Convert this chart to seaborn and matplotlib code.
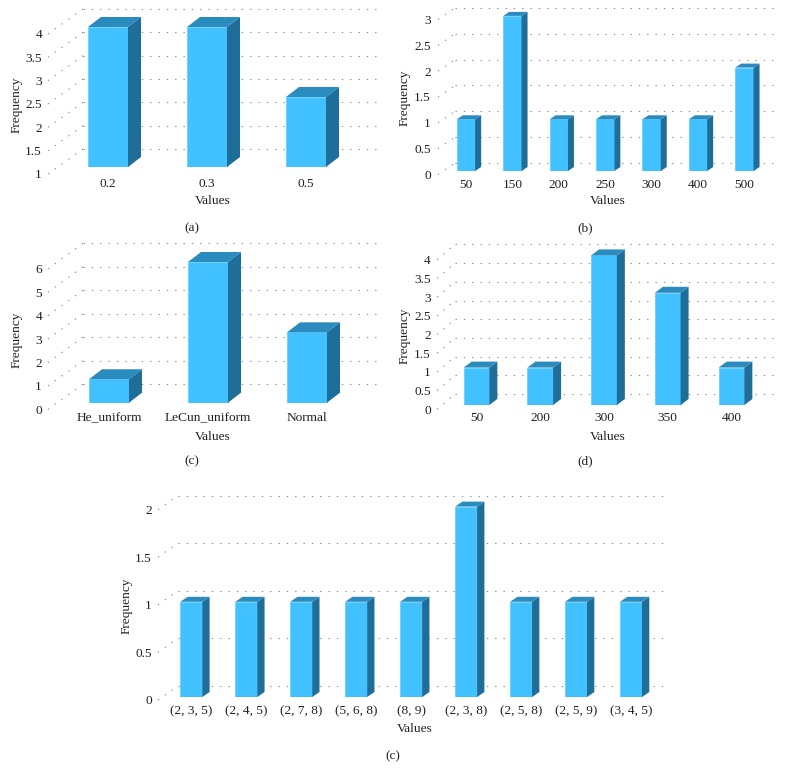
# plot.py
# Five faux-3D frequency bar panels drawn with seaborn on a white page.

import matplotlib
matplotlib.use('Agg')
import matplotlib.pyplot as plt
from matplotlib.patches import Polygon
from matplotlib.transforms import ScaledTranslation
import seaborn as sns

W, H = 787, 781

# ------------------------------------------------
# Data
# ------------------------------------------------
cats_a = ['0.2', '0.3', '0.5']
vals_a = [4, 4, 2.5]
ticks_a = [1, 1.5, 2, 2.5, 3, 3.5, 4]

cats_b = ['50', '150', '200', '250', '300', '400', '500']
vals_b = [1, 3, 1, 1, 1, 1, 2]
ticks_b = [0, 0.5, 1, 1.5, 2, 2.5, 3]

cats_c = ['He_uniform', 'LeCun_uniform', 'Normal']
vals_c = [1, 6, 3]
ticks_c = [0, 1, 2, 3, 4, 5, 6]

cats_d = ['50', '200', '300', '350', '400']
vals_d = [1, 1, 4, 3, 1]
ticks_d = [0, 0.5, 1, 1.5, 2, 2.5, 3, 3.5, 4]

cats_e = ['(2, 3, 5)', '(2, 4, 5)', '(2, 7, 8)', '(5, 6, 8)', '(8, 9)',
          '(2, 3, 8)', '(2, 5, 8)', '(2, 5, 9)', '(3, 4, 5)']
vals_e = [1, 1, 1, 1, 1, 2, 1, 1, 1]
ticks_e = [0, 0.5, 1, 1.5, 2]

# ------------------------------------------------
# Style
# ------------------------------------------------
FRONT = '#41C1FF'
EDGE = '#6FD2FF'
TOP = '#2A8BBF'
SIDE = '#1F6E9A'
TEXT = '#231F20'
DOT = '#8C8C8C'

sns.set_style('white')
plt.rcParams['font.family'] = ['Liberation Serif', 'DejaVu Serif']
plt.rcParams['font.size'] = 9.6
plt.rcParams['text.color'] = TEXT
plt.rcParams['xtick.color'] = TEXT
plt.rcParams['ytick.color'] = TEXT
plt.rcParams['axes.labelcolor'] = TEXT

fig = plt.figure(figsize=(W / 100, H / 100), dpi=100)


def draw_panel(cats, vals, ticks, first, spacing, bar_w, base, unit, depth,
               back, label_shift, wall, label_right, xlabel_y, freq, values, cap):
    """All pixel arguments are measured from the top left of the page."""
    ymin = ticks[0]
    n = len(cats)
    left = first - spacing / 2
    top_val = ticks[-1] + 0.45 * (ticks[-1] - ticks[0]) / 3
    top_px = base - (top_val - ymin) * unit
    ax = fig.add_axes([left / W, 1 - base / H, spacing * n / W, (base - top_px) / H])

    sns.barplot(x=cats, y=vals, order=cats, ax=ax, color=FRONT, saturation=1,
                width=bar_w / spacing, edgecolor=EDGE, linewidth=0.7, zorder=3)
    ax.set_xlim(-0.5, n - 0.5)
    ax.set_ylim(ymin, top_val)
    sns.despine(ax=ax, left=True, bottom=True)
    ax.grid(False)

    to_x = lambda px: (px - left) / spacing - 0.5
    dx, dy = depth[0] / spacing, depth[1] / unit

    # side and top faces follow each bar that seaborn placed
    for bar in ax.patches[:n]:
        x0, x1 = bar.get_x(), bar.get_x() + bar.get_width()
        y0, y1 = max(bar.get_y(), ymin), bar.get_y() + bar.get_height()
        ax.add_patch(Polygon([(x1, y0), (x1 + dx, y0 + dy), (x1 + dx, y1 + dy), (x1, y1)],
                             closed=True, fc=SIDE, ec='none', zorder=3, clip_on=False))
        ax.add_patch(Polygon([(x0, y1), (x1, y1), (x1 + dx, y1 + dy), (x0 + dx, y1 + dy)],
                             closed=True, fc=TOP, ec='none', zorder=3, clip_on=False))

    # dotted back wall with the diagonal running down to each tick label
    dots = dict(color=DOT, lw=0.8, ls=(0, (1.2, 6.3)), zorder=1, clip_on=False)
    for t in ticks:
        ax.plot([to_x(wall[1]), to_x(wall[2])], [t + back / unit] * 2, **dots)
        ax.plot([to_x(wall[0]), to_x(wall[1])],
                [t - label_shift / unit, t + back / unit], **dots)

    ax.set_yticks(ticks)
    ax.set_yticklabels([f'{t:g}' for t in ticks])
    ax.tick_params(axis='y', length=0, pad=(left - label_right) * 0.72)
    ax.tick_params(axis='x', length=0, pad=(xlabel_y - base - 4) * 0.72)
    shift = ScaledTranslation(0, -label_shift / 100, fig.dpi_scale_trans)
    for lab in ax.get_yticklabels():
        lab.set_transform(lab.get_transform() + shift)

    ax.set_xlabel('Values')
    ax.xaxis.set_label_coords(values[0] / W, 1 - (values[1] + 1.5) / H, transform=fig.transFigure)
    ax.xaxis.label.set_va('center')
    ax.set_ylabel('Frequency')
    ax.yaxis.set_label_coords((freq[0] + 2) / W, 1 - freq[1] / H, transform=fig.transFigure)
    ax.yaxis.label.set_va('center')
    fig.text(cap[1] / W, 1 - (cap[2] + 1.5) / H, cap[0], ha='center', va='center')


# ------------------------------------------------
# Panels
# ------------------------------------------------
draw_panel(cats_a, vals_a, ticks_a, 108, 99, 40, 167, 46.67, (13, 10), 18, 7,
           (48, 83, 379), 42, 182, (15, 105), (213, 200), ('(a)', 192, 227))
draw_panel(cats_b, vals_b, ticks_b, 466, 46.4, 18.3, 171, 51.7, (6, 4), 8, 3.5,
           (438, 455, 780), 431, 183, (403, 98), (608, 200), ('(b)', 585, 227))
draw_panel(cats_c, vals_c, ticks_c, 109, 99, 40, 402.7, 23.45, (13, 10), 18.7, 6.7,
           (48, 83, 379), 42, 416, (15, 340), (213, 435), ('(c)', 192, 460))
draw_panel(cats_d, vals_d, ticks_d, 476.5, 63.75, 25.7, 405, 37.4, (8, 6), 11, 4.3,
           (437, 455, 780), 431, 416, (403, 336), (608, 435), ('(d)', 585, 460))
draw_panel(cats_e, vals_e, ticks_e, 191.3, 54.96, 22, 697, 95.2, (7.3, 5), 11, 3,
           (158, 178, 663), 152, 709, (125, 606), (415, 728), ('(c)', 393, 755))

fig.savefig('out.png', dpi=100, facecolor='white')
